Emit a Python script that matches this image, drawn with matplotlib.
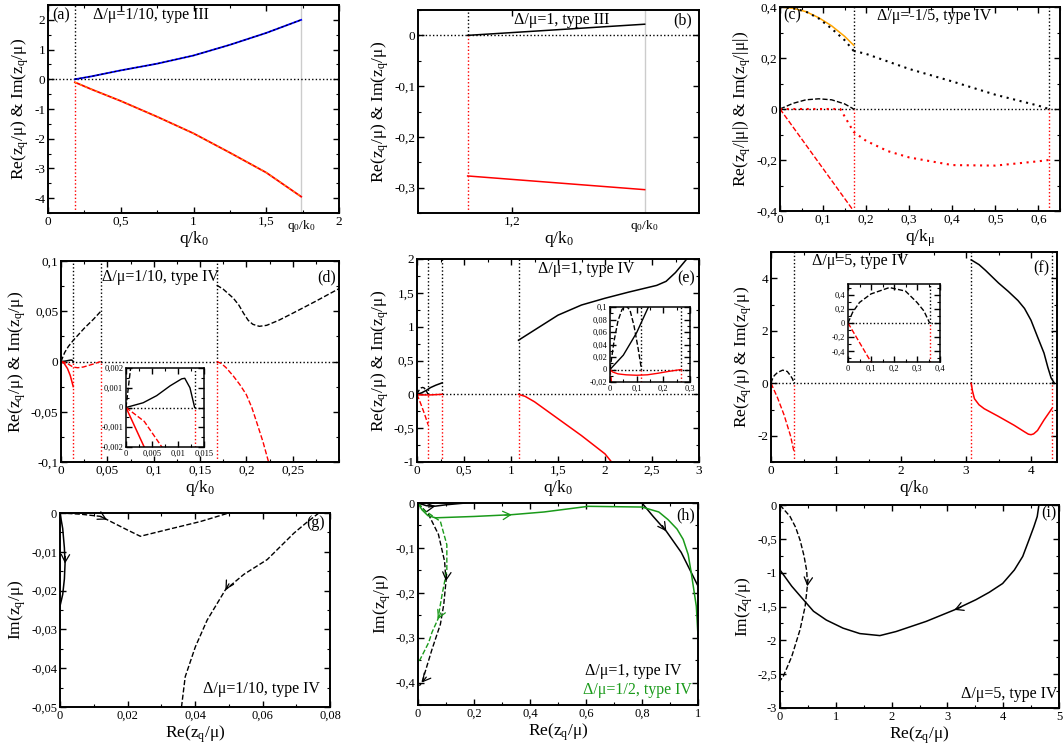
import numpy as np
import matplotlib.pyplot as plt
from matplotlib.ticker import MultipleLocator, FuncFormatter
from matplotlib.transforms import blended_transform_factory

plt.rcParams['font.family'] = ['Liberation Serif', 'DejaVu Serif']
plt.rcParams['mathtext.fontset'] = 'custom'
plt.rcParams['mathtext.rm'] = 'Liberation Serif'
plt.rcParams['mathtext.it'] = 'Liberation Serif:italic'

# ---- panel (a): Delta/mu = 1/10, type III
qa = [0.185, 0.3, 0.5, 0.75, 1.0, 1.25, 1.5, 1.74]
a_re = [0.0, 0.10, 0.30, 0.525, 0.80, 1.16, 1.56, 2.0]
a_im = [-0.1, -0.34, -0.73, -1.26, -1.82, -2.47, -3.14, -3.95]
a_qc = 0.185
a_q0 = 1.74

# ---- panel (b): Delta/mu = 1, type III
qb = [1.153, 1.342]
b_re = [0.0, 0.022]
b_im = [-0.277, -0.304]
b_qc = 1.153
b_q0 = 1.342

# ---- panel (c): Delta/mu = -1/5, type IV
qc1 = [0, 0.03, 0.06, 0.09, 0.12, 0.15, 0.171]
c_orange = [0.4, 0.395, 0.382, 0.358, 0.326, 0.285, 0.25]
c_bdot1 = [0.4, 0.395, 0.382, 0.355, 0.315, 0.27, 0.228]
c_bdash = [0, 0.022, 0.036, 0.040, 0.036, 0.02, 0.0]
qc2 = [0.171, 0.2, 0.3, 0.4, 0.5, 0.6, 0.624]
c_bdot2 = [0.228, 0.216, 0.157, 0.108, 0.056, 0.013, 0.0]
qc3 = [0, 0.14, 0.171, 0.2, 0.25, 0.3, 0.4, 0.5, 0.6, 0.624]
c_rdot = [0, 0, -0.09, -0.125, -0.165, -0.19, -0.22, -0.222, -0.205, -0.2]
qc4 = [0, 0.171]
c_rdash = [0, -0.4]
c_vl = [0.171, 0.624]

# ---- panel (d): Delta/mu = 1/10, type IV
qd_bs = [0, 0.0033, 0.0059, 0.0085, 0.0107, 0.0113, 0.0123, 0.0132]
d_bs = [0, 0.00024, 0.0006, 0.0011, 0.00145, 0.00148, 0.001, 0]
qd_rs = [0, 0.0035, 0.007, 0.010, 0.0132]
d_rs = [0, -0.002, -0.007, -0.014, -0.025]
qd_bd1 = [0, 0.004, 0.008, 0.0132, 0.025, 0.035, 0.043]
d_bd1 = [0, 0.009, 0.015, 0.021, 0.033, 0.042, 0.05]
qd_rd1 = [0, 0.0035, 0.0069, 0.01, 0.0132, 0.018, 0.024, 0.035, 0.043]
d_rd1 = [0, -0.0007, -0.002, -0.0038, -0.0056, -0.0062, -0.0055, -0.0025, 0]
qd_bd2 = [0.168, 0.175, 0.186, 0.192, 0.197, 0.202, 0.207, 0.214, 0.222, 0.235, 0.25, 0.275, 0.3]
d_bd2 = [0.076, 0.072, 0.063, 0.056, 0.048, 0.041, 0.037, 0.035, 0.036, 0.041, 0.048, 0.06, 0.0725]
qd_rd2 = [0.168, 0.173, 0.178, 0.186, 0.193, 0.2, 0.206, 0.211, 0.218, 0.224]
d_rd2 = [0, -0.002, -0.006, -0.0145, -0.023, -0.033, -0.046, -0.06, -0.08, -0.1]
d_vl = [0.0132, 0.043, 0.168]

# ---- panel (e): Delta/mu = 1, type IV
qe_bs1 = [0, 0.05, 0.1, 0.144, 0.2, 0.268]
e_bs1 = [0, 0.023, 0.059, 0.1, 0.135, 0.17]
qe_bd1 = [0, 0.015, 0.03, 0.045, 0.06, 0.075, 0.09, 0.105, 0.118]
e_bd1 = [0, 0.045, 0.078, 0.096, 0.102, 0.095, 0.07, 0.035, 0]
qe_rs1 = [0, 0.01, 0.03, 0.06, 0.1, 0.14, 0.18, 0.22, 0.268]
e_rs1 = [0, -0.004, -0.007, -0.0085, -0.0092, -0.0085, -0.006, -0.003, 0]
qe_rd1 = [0, 0.04, 0.08, 0.118]
e_rd1 = [0, -0.14, -0.29, -0.45]
qe_bs2 = [1.08, 1.25, 1.5, 1.75, 2.0, 2.25, 2.4, 2.55, 2.65, 2.75, 2.87]
e_bs2 = [0.8, 0.95, 1.17, 1.32, 1.42, 1.51, 1.56, 1.61, 1.67, 1.8, 2.0]
qe_rs2 = [1.08, 1.15, 1.25, 1.5, 1.75, 2.0, 2.07]
e_rs2 = [0, -0.03, -0.11, -0.36, -0.61, -0.88, -1.0]
e_vl = [0.118, 0.268, 1.08]

# ---- panel (f): Delta/mu = 5, type IV
qf_bd1 = [0, 0.02, 0.05, 0.1, 0.18, 0.25, 0.3, 0.33, 0.355]
f_bd1 = [0, 0.15, 0.29, 0.41, 0.5, 0.45, 0.29, 0.17, 0]
qf_rd1 = [0, 0.1, 0.2, 0.3, 0.355]
f_rd1 = [0, -0.55, -1.2, -2.0, -2.62]
qf_bs2 = [3.08, 3.2, 3.3, 3.5, 3.65, 3.8, 3.9, 4.0, 4.1, 4.2, 4.26, 4.31, 4.36]
f_bs2 = [4.7, 4.52, 4.3, 3.82, 3.5, 3.15, 2.85, 2.4, 1.77, 1.15, 0.6, 0.2, 0.0]
qf_rs2 = [3.08, 3.1, 3.13, 3.2, 3.28, 3.49, 3.74, 3.9, 3.96, 4.0, 4.04, 4.1, 4.2, 4.32]
f_rs2 = [0, -0.3, -0.59, -0.82, -0.97, -1.25, -1.6, -1.85, -1.94, -1.96, -1.93, -1.8, -1.4, -0.97]
f_vl = [0.355, 3.08, 4.32]

# ---- panel (g): complex plane, Delta/mu = 1/10
g_s_re = [0, 0.0008, 0.0013, 0.0015, 0.0013, 0.0008, 0.0]
g_s_im = [0, -0.004, -0.009, -0.013, -0.017, -0.021, -0.024]
g_d1_re = [0, 0.006, 0.0119, 0.0139, 0.0198, 0.0238, 0.0317, 0.0416, 0.05]
g_d1_im = [0, -0.0003, -0.00086, -0.0017, -0.0043, -0.006, -0.0043, -0.0022, 0]
g_d2_re = [0.0767, 0.073, 0.0693, 0.0614, 0.0545, 0.049, 0.0436, 0.0401, 0.0371, 0.036]
g_d2_im = [0, -0.0025, -0.0052, -0.012, -0.0158, -0.0198, -0.0276, -0.0345, -0.0422, -0.05]

# ---- panel (h): complex plane, Delta/mu = 1 and 1/2
h_bs1_re = [0, 0.03, 0.062, 0.1, 0.17]
h_bs1_im = [0, -0.006, -0.007, -0.004, 0]
h_bs2_re = [0.8, 0.84, 0.887, 0.94, 1.0]
h_bs2_im = [0, -0.03, -0.063, -0.11, -0.185]
h_bd_re = [0, 0.038, 0.073, 0.095, 0.1, 0.092, 0.08, 0.05, 0.014, 0.005]
h_bd_im = [0, -0.026, -0.07, -0.13, -0.174, -0.226, -0.27, -0.326, -0.4, -0.407]
h_gs_re = [0, 0.014, 0.035, 0.062, 0.2, 0.335, 0.45, 0.608, 0.8, 0.86, 0.893, 0.925, 0.947, 0.965, 0.976, 0.994, 1.0]
h_gs_im = [0, -0.015, -0.028, -0.033, -0.03, -0.026, -0.02, -0.0074, -0.009, -0.02, -0.037, -0.058, -0.081, -0.115, -0.156, -0.23, -0.296]
h_gd_re = [0, 0.02, 0.08, 0.103, 0.103, 0.086, 0.071, 0.05, 0.038, 0.008, 0.0]
h_gd_im = [0, -0.015, -0.041, -0.093, -0.15, -0.204, -0.259, -0.288, -0.311, -0.348, -0.355]

# ---- panel (i): complex plane, Delta/mu = 5
i_d_re = [0, 0.18, 0.28, 0.36, 0.43, 0.48, 0.49, 0.45, 0.36, 0.21, 0.06, 0.0]
i_d_im = [0, -0.17, -0.33, -0.52, -0.75, -0.98, -1.2, -1.5, -1.84, -2.24, -2.53, -2.6]
i_s_re = [4.64, 4.61, 4.55, 4.46, 4.35, 4.2, 3.99, 3.75, 3.51, 3.125, 2.62, 2.08, 1.79,
          1.43, 1.13, 0.83, 0.6, 0.42, 0.21, 0.0]
i_s_im = [0, -0.17, -0.32, -0.52, -0.76, -0.96, -1.16, -1.29, -1.4, -1.55, -1.72, -1.87, -1.93,
          -1.9, -1.82, -1.7, -1.57, -1.4, -1.2, -0.96]

W, H = 1063, 746
fig = plt.figure(figsize=(W / 100, H / 100), dpi=100)

DOT = (0, (1, 1.6))
RED = '#ff0000'
GREEN = '#1a9a1a'


def comma(v, pos):
    s = f'{round(v, 6):g}'
    if s == '-0':
        s = '0'
    return s.replace('.', ',')


def box(l, t, r, b):
    return fig.add_axes([l / W, 1 - b / H, (r - l) / W, (b - t) / H])


def style(ax, xlim, ylim, xmaj, xmin, ymaj, ymin, fs=9.5, lw=1.4):
    ax.set_xlim(*xlim)
    ax.set_ylim(*ylim)
    ax.xaxis.set_major_locator(MultipleLocator(xmaj))
    ax.xaxis.set_minor_locator(MultipleLocator(xmin))
    ax.yaxis.set_major_locator(MultipleLocator(ymaj))
    ax.yaxis.set_minor_locator(MultipleLocator(ymin))
    ax.xaxis.set_major_formatter(FuncFormatter(comma))
    ax.yaxis.set_major_formatter(FuncFormatter(comma))
    ax.tick_params(which='both', direction='in', top=True, right=True, labelsize=fs, pad=2)
    ax.tick_params(which='major', length=4, width=1)
    ax.tick_params(which='minor', length=2, width=0.8)
    for s in ax.spines.values():
        s.set_linewidth(lw)


def vlines(ax, xs):
    lo, hi = ax.get_ylim()
    for x in xs:
        ax.plot([x, x], [lo, 0], color=RED, ls=DOT, lw=1)
        ax.plot([x, x], [0, hi], color='k', ls=DOT, lw=1)


def zero(ax):
    ax.axhline(0, color='k', ls=DOT, lw=1)


def arrow(ax, x, y, i, color='k'):
    # open arrowhead at point i, pointing along the curve towards point i+1
    p = ax.transData.transform((x[i], y[i]))
    p2 = ax.transData.transform((x[i + 1], y[i + 1]))
    d = (p2 - p) / np.hypot(*(p2 - p))
    ax.annotate('', xy=(x[i], y[i]), xytext=(-7 * d[0], -7 * d[1]), textcoords='offset pixels',
                arrowprops=dict(arrowstyle='->,head_length=0.55,head_width=0.3',
                                color=color, lw=0.9, shrinkA=0, shrinkB=0))


def q0label(ax, x):
    tr = blended_transform_factory(ax.transData, ax.transAxes)
    ax.text(x, -0.025, r'q$_0$/k$_0$', transform=tr, ha='center', va='top', fontsize=9.5)


YL = r'Re(z$_\mathrm{q}$/μ) & Im(z$_\mathrm{q}$/μ)'
XL = r'q/k$_0$'
LFS = 12.5
TFS = 11.5

# (a)
ax = box(48, 5, 339, 213)
style(ax, (0, 2), (-4.5, 2.5), 0.5, 0.25, 1, 0.5)
ax.axvline(a_q0, color='#cccccc', lw=1)
zero(ax)
vlines(ax, [a_qc])
ax.plot(qa, a_re, color='#0000ff', lw=1.3)
ax.plot(qa, a_re, color='k', lw=0.8, dashes=(2, 2))
ax.plot(qa, a_im, color=RED, lw=1.3)
ax.plot(qa, a_im, color='#ffa500', lw=0.8, dashes=(2, 3))
q0label(ax, a_q0)
ax.set_xlabel(XL, fontsize=LFS, labelpad=1)
ax.set_ylabel(YL, fontsize=LFS, labelpad=2)
ax.text(0.014, 0.95, '(a)', transform=ax.transAxes, fontsize=TFS, va='center')
ax.text(0.155, 0.95, 'Δ/μ=1/10, type III', transform=ax.transAxes, fontsize=TFS, va='center')

# (b)
ax = box(418, 10, 699, 213)
style(ax, (1.1, 1.4), (-0.35, 0.05), 0.2, 0.2, 0.1, 0.05)
ax.set_xticks([1.2])
ax.xaxis.set_minor_locator(plt.NullLocator())
ax.axvline(b_q0, color='#cccccc', lw=1)
zero(ax)
vlines(ax, [b_qc])
ax.plot(qb, b_re, color='k', lw=1.1)
ax.plot(qb, b_im, color=RED, lw=1.1)
q0label(ax, b_q0)
ax.set_xlabel(XL, fontsize=LFS, labelpad=1)
ax.set_ylabel(YL, fontsize=LFS, labelpad=2)
ax.text(0.975, 0.95, '(b)', transform=ax.transAxes, fontsize=TFS, va='center', ha='right')
ax.text(0.51, 0.95, 'Δ/μ=1, type III', transform=ax.transAxes, fontsize=TFS, va='center', ha='center')

# (c)
ax = box(780, 7, 1060, 211)
style(ax, (0, 0.65), (-0.4, 0.4), 0.1, 0.05, 0.2, 0.1)
zero(ax)
vlines(ax, c_vl)
ax.plot(qc1, c_orange, color='#ffa500', lw=1.1)
ax.plot(qc1, c_bdot1, color='k', ls=(0, (1, 2.2)), lw=1.5)
ax.plot(qc2, c_bdot2, color='k', ls=(0, (1, 2.2)), lw=1.5)
ax.plot(qc1, c_bdash, color='k', ls='--', lw=1)
ax.plot(qc3, c_rdot, color=RED, ls=(0, (1, 2.2)), lw=1.5)
ax.plot(qc4, c_rdash, color=RED, ls='--', lw=1)
ax.set_xlabel(r'q/k$_\mathrm{μ}$', fontsize=LFS, labelpad=1)
ax.set_ylabel(r'Re(z$_\mathrm{q}$/|μ|) & Im(z$_\mathrm{q}$/|μ|)', fontsize=LFS, labelpad=2)
ax.text(0.012, 0.96, '(c)', transform=ax.transAxes, fontsize=TFS, va='center')
ax.text(0.345, 0.955, 'Δ/μ=-1/5, type IV', transform=ax.transAxes, fontsize=TFS, va='center')

# (d)
ax = box(61, 261, 339, 462)
style(ax, (0, 0.3), (-0.1, 0.1), 0.05, 0.025, 0.05, 0.025)
ax.set_xticks(np.arange(0, 0.26, 0.05))
zero(ax)
vlines(ax, d_vl)
ax.plot(qd_bs, d_bs, color='k', lw=1.1)
ax.plot(qd_rs, d_rs, color=RED, lw=1.1)
ax.plot(qd_bd1, d_bd1, color='k', ls='--', lw=1)
ax.plot(qd_rd1, d_rd1, color=RED, ls='--', lw=1)
ax.plot(qd_bd2, d_bd2, color='k', ls='--', lw=1)
ax.plot(qd_rd2, d_rd2, color=RED, ls='--', lw=1)
ax.set_xlabel(XL, fontsize=LFS, labelpad=1)
ax.set_ylabel(YL, fontsize=LFS, labelpad=2)
ax.text(0.99, 0.92, '(d)', transform=ax.transAxes, fontsize=TFS, va='center', ha='right')
ax.text(0.146, 0.92, 'Δ/μ=1/10, type IV', transform=ax.transAxes, fontsize=TFS, va='center')

ins = box(126, 368, 204, 447)
style(ins, (0, 0.015), (-0.002, 0.002), 0.005, 0.0025, 0.001, 0.0005, fs=6, lw=1.1)
zero(ins)
vlines(ins, [d_vl[0]])
ins.plot(qd_bs, d_bs, color='k', lw=1)
ins.plot(qd_rs, d_rs, color=RED, lw=1.1)
ins.plot(qd_bd1, d_bd1, color='k', ls='--', lw=1)
ins.plot(qd_rd1, d_rd1, color=RED, ls='--', lw=1)

# (e)
ax = box(417, 259, 699, 462)
style(ax, (0, 3), (-1, 2), 0.5, 0.25, 0.5, 0.25)
zero(ax)
vlines(ax, e_vl)
ax.plot(qe_bs1, e_bs1, color='k', lw=1.1)
ax.plot(qe_bd1, e_bd1, color='k', ls='--', lw=1)
ax.plot(qe_rs1, e_rs1, color=RED, lw=1.1)
ax.plot(qe_rd1, e_rd1, color=RED, ls='--', lw=1)
ax.plot(qe_bs2, e_bs2, color='k', lw=1.1)
ax.plot(qe_rs2, e_rs2, color=RED, lw=1.1)
ax.set_xlabel(XL, fontsize=LFS, labelpad=1)
ax.set_ylabel(YL, fontsize=LFS, labelpad=2)
ax.text(0.985, 0.905, '(e)', transform=ax.transAxes, fontsize=TFS, va='center', ha='right')
ax.text(0.43, 0.95, 'Δ/μ=1, type IV', transform=ax.transAxes, fontsize=TFS, va='center')

ins = box(610, 307, 690, 382)
style(ins, (0, 0.3), (-0.02, 0.1), 0.1, 0.05, 0.02, 0.01, fs=6, lw=1.1)
zero(ins)
vlines(ins, e_vl[:2])
ins.plot(qe_bs1, e_bs1, color='k', lw=1)
ins.plot(qe_bd1, e_bd1, color='k', ls='--', lw=1)
ins.plot(qe_rs1, e_rs1, color=RED, lw=1)
ins.plot(qe_rd1, e_rd1, color=RED, ls='--', lw=1)

# (f)
ax = box(771, 252, 1057, 462)
style(ax, (0, 4.4), (-3, 5), 1, 0.5, 2, 1)
zero(ax)
vlines(ax, f_vl)
ax.plot(qf_bd1, f_bd1, color='k', ls='--', lw=1)
ax.plot(qf_rd1, f_rd1, color=RED, ls='--', lw=1)
ax.plot(qf_bs2, f_bs2, color='k', lw=1.1)
ax.plot(qf_rs2, f_rs2, color=RED, lw=1.1)
ax.set_xlabel(XL, fontsize=LFS, labelpad=1)
ax.set_ylabel(YL, fontsize=LFS, labelpad=2)
ax.text(0.972, 0.922, '(f)', transform=ax.transAxes, fontsize=TFS, va='center', ha='right')
ax.text(0.143, 0.957, 'Δ/μ=5, type IV', transform=ax.transAxes, fontsize=TFS, va='center')

ins = box(848, 284, 940, 362)
style(ins, (0, 0.4), (-0.55, 0.55), 0.1, 0.05, 0.2, 0.1, fs=6, lw=1.1)
zero(ins)
vlines(ins, [f_vl[0]])
ins.plot(qf_bd1, f_bd1, color='k', ls='--', lw=1)
ins.plot(qf_rd1, f_rd1, color=RED, ls='--', lw=1)

# (g)
XB = r'Re(z$_\mathrm{q}$/μ)'
YB = r'Im(z$_\mathrm{q}$/μ)'
ax = box(60, 513, 330, 707)
style(ax, (0, 0.08), (-0.05, 0), 0.02, 0.01, 0.01, 0.005, fs=9)
ax.plot(g_s_re, g_s_im, color='k', lw=1.1)
ax.plot(g_d1_re, g_d1_im, color='k', ls='--', lw=1)
ax.plot(g_d2_re, g_d2_im, color='k', ls='--', lw=1)
arrow(ax, g_s_re, g_s_im, 3)
arrow(ax, g_d1_re, g_d1_im, 3)
arrow(ax, g_d2_re, g_d2_im, 5)
ax.set_xlabel(XB, fontsize=LFS, labelpad=1)
ax.set_ylabel(YB, fontsize=LFS, labelpad=2)
ax.text(0.98, 0.95, '(g)', transform=ax.transAxes, fontsize=TFS, va='center', ha='right')
ax.text(0.963, 0.093, 'Δ/μ=1/10, type IV', transform=ax.transAxes, fontsize=TFS, va='center', ha='right')

# (h)
ax = box(418, 503, 698, 705)
style(ax, (0, 1), (-0.45, 0), 0.2, 0.1, 0.1, 0.05, fs=9)
ax.plot(h_bs1_re, h_bs1_im, color='k', lw=1.1)
ax.plot(h_bs2_re, h_bs2_im, color='k', lw=1.1)
ax.plot(h_bd_re, h_bd_im, color='k', ls='--', lw=1)
ax.plot(h_gs_re, h_gs_im, color=GREEN, lw=1.1)
ax.plot(h_gd_re, h_gd_im, color=GREEN, ls='--', lw=1)
arrow(ax, h_bs1_re, h_bs1_im, 2)
arrow(ax, h_bs2_re, h_bs2_im, 2)
arrow(ax, h_bd_re, h_bd_im, 4)
arrow(ax, h_bd_re, h_bd_im, 8)
arrow(ax, h_gs_re, h_gs_im, 5, GREEN)
arrow(ax, h_gd_re, h_gd_im, 6, GREEN)
ax.set_xlabel(XB, fontsize=LFS, labelpad=1)
ax.set_ylabel(YB, fontsize=LFS, labelpad=2)
ax.text(0.99, 0.94, '(h)', transform=ax.transAxes, fontsize=TFS, va='center', ha='right')
ax.text(0.596, 0.166, 'Δ/μ=1, type IV', transform=ax.transAxes, fontsize=TFS, va='center')
ax.text(0.59, 0.075, 'Δ/μ=1/2, type IV', transform=ax.transAxes, fontsize=TFS, va='center', color=GREEN)

# (i)
ax = box(780, 505, 1059, 708)
style(ax, (0, 5), (-3, 0), 1, 0.5, 0.5, 0.25, fs=9)
ax.plot(i_d_re, i_d_im, color='k', ls='--', lw=1)
ax.plot(i_s_re, i_s_im, color='k', lw=1.1)
arrow(ax, i_d_re, i_d_im, 6)
arrow(ax, i_s_re, i_s_im, 9)
ax.set_xlabel(XB, fontsize=LFS, labelpad=1)
ax.set_ylabel(YB, fontsize=LFS, labelpad=2)
ax.text(0.99, 0.96, '(i)', transform=ax.transAxes, fontsize=TFS, va='center', ha='right')
ax.text(0.995, 0.07, 'Δ/μ=5, type IV', transform=ax.transAxes, fontsize=TFS, va='center', ha='right')

fig.savefig('out.png', dpi=100)
